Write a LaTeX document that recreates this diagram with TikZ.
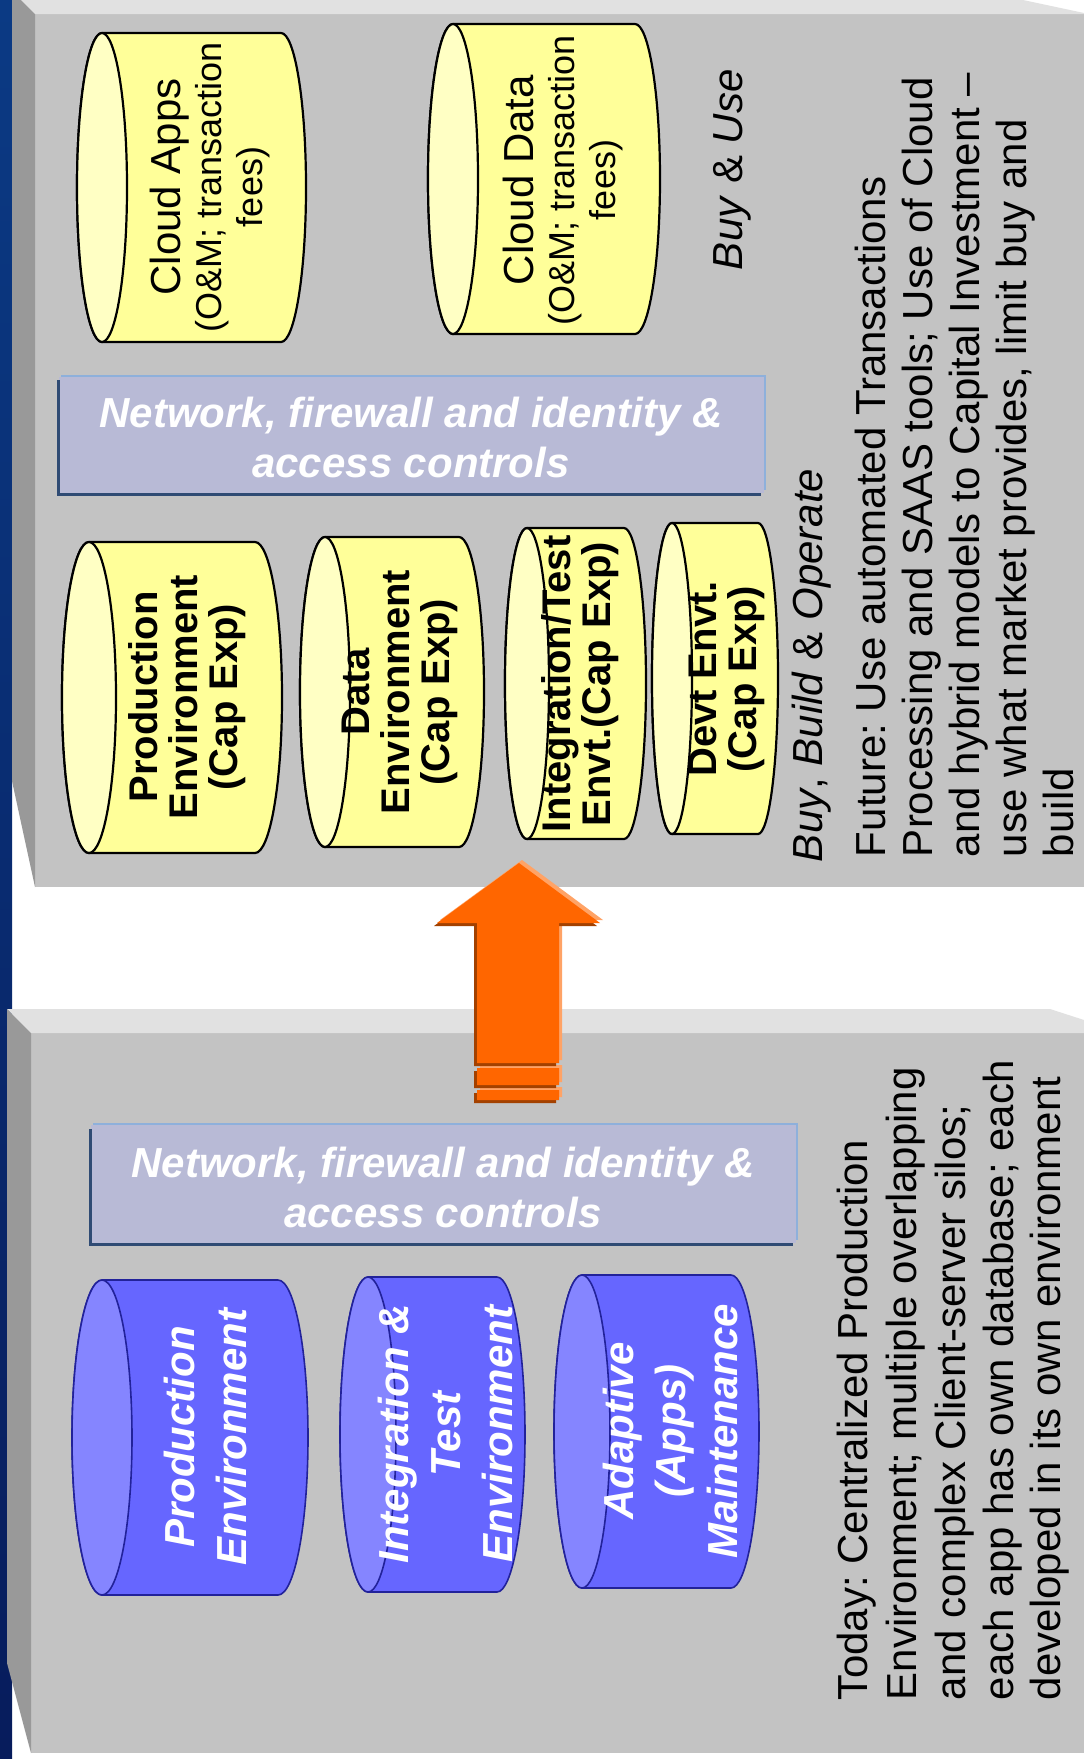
\documentclass[tikz,border=0pt]{standalone}
\usepackage{fontspec}
\setmainfont{Liberation Sans}
\frenchspacing
\definecolor{panelface}{HTML}{C3C3C3}
\definecolor{paneltop}{HTML}{E1E1E1}
\definecolor{panelside}{HTML}{999999}
\definecolor{navyA}{HTML}{0B3A84}
\definecolor{navyB}{HTML}{071C5C}
\definecolor{cylY}{HTML}{FFFF99}
\definecolor{cylYend}{HTML}{FFFFC4}
\definecolor{cylB}{HTML}{6666FF}
\definecolor{cylBend}{HTML}{8585FF}
\definecolor{cylBline}{HTML}{22229A}
\definecolor{netfill}{HTML}{B8BAD6}
\definecolor{netlight}{HTML}{8EB0DB}
\definecolor{netdark}{HTML}{2F4B74}
\definecolor{orangeA}{HTML}{FF6600}
\definecolor{orangeDark}{HTML}{A34100}
\definecolor{orangeLight}{HTML}{FFA366}
% #1 L, #2 R, #3 T, #4 B, #5 rx, #6 body colour, #7 end colour, #8 line style
\newcommand\mycyl[8]{%
  \pgfmathsetmacro\cylcxa{#1+#5}%
  \pgfmathsetmacro\cylcxb{#2-#5}%
  \pgfmathsetmacro\cylry{(#4-#3)/2}%
  \pgfmathsetmacro\cylcym{(#3+#4)/2}%
  \filldraw[fill=#6,#8] (\cylcxa,#3) -- (\cylcxb,#3)
    arc[start angle=-90,end angle=90,x radius=#5,y radius=\cylry]
    -- (\cylcxa,#4)
    arc[start angle=90,end angle=270,x radius=#5,y radius=\cylry] -- cycle;
  \filldraw[fill=#7,#8] (\cylcxa,\cylcym) ellipse[x radius=#5,y radius=\cylry];
}
\tikzset{
  every node/.style={inner sep=0pt, outer sep=0pt},
  yline/.style={draw=black, line width=2.2pt},
  bline/.style={draw=cylBline, line width=1.6pt},
  cyltext/.style={rotate=90, align=center, font=\bfseries\fontsize{40}{40}\selectfont},
  bluetext/.style={rotate=90, align=center, text=white, font=\bfseries\itshape\fontsize{42}{52}\selectfont},
  cloudtext/.style={rotate=90, align=center, font=\fontsize{36}{41}\selectfont},
  nettext/.style={align=center, text=white, font=\bfseries\itshape\fontsize{42}{50}\selectfont},
  bodytext/.style={rotate=90, anchor=base west, font=\fontsize{42}{48}\selectfont},
}
\begin{document}
\begin{tikzpicture}[x=1pt,y=-1pt]
\useasboundingbox (0,0) rectangle (1084,1759);
\fill[white] (0,0) rectangle (1084,1759);
% blue strip
\shade[top color=navyA, bottom color=navyB] (0,0) rectangle (12,1759);
% top panel
\fill[panelface] (35,14) rectangle (1084,887);
\fill[paneltop] (21,0) -- (1023,0) -- (1084,13) -- (1084,14) -- (35,14) -- cycle;
\fill[panelside] (12,0) -- (21,0) -- (35,14) -- (35,887) -- (12,781) -- cycle;
% bottom panel
\fill[panelface] (31,1033) rectangle (1084,1753);
\fill[paneltop] (7,1009) -- (1050,1009) -- (1084,1020) -- (1084,1033) -- (31,1033) -- cycle;
\fill[panelside] (7,1009) -- (31,1033) -- (31,1753) -- (7,1663) -- cycle;

% top cylinders
\mycyl{77}{306}{33}{342}{25}{cylY}{cylYend}{yline}
\node[cloudtext] (cloudapps) at (210,187) {{\fontsize{42}{41}\selectfont Cloud Apps}\\(O\&M; transaction\\fees)};
\mycyl{428}{660}{24}{334}{25}{cylY}{cylYend}{yline}
\node[cloudtext] (clouddata) at (563,180) {{\fontsize{42}{41}\selectfont Cloud Data}\\(O\&M; transaction\\fees)};
\node[bodytext] (buyuse) at (742,270) {\textit{Buy} \& \textit{Use}};

% network box top
\fill[netfill] (59,377) rectangle (764,493);
\draw[netlight, line width=2.5pt] (61,376) -- (765,376) -- (765,490);
\draw[netdark, line width=3pt] (58,380) -- (58,494) -- (761,494);
\node[nettext] (net1) at (411,437) {Network, firewall and identity \&\\access controls};

% yellow row
\mycyl{62}{282}{542}{853}{27}{cylY}{cylYend}{yline}
\node[cyltext] (prodY) at (187,697) {Production\\Environment\\(Cap Exp)};
\mycyl{300}{484}{537}{847}{25}{cylY}{cylYend}{yline}
\node[cyltext] (dataY) at (400,692) {Data\\Environment\\(Cap Exp)};
\mycyl{505}{646}{528}{839}{22}{cylY}{cylYend}{yline}
\node[cyltext] (intY) at (580,684) {Integration/Test\\Envt.(Cap Exp)};
\mycyl{652}{778}{523}{834}{20}{cylY}{cylYend}{yline}
\node[cyltext] (devY) at (727,679) {Devt Envt.\\(Cap Exp)};

% texts right of top panel
\node[bodytext] (bbo) at (822,862) {\textit{Buy}, \textit{Build} \& \textit{Operate}};
\node[bodytext] (fut1) at (885,857) {Future: Use automated Transactions};
\node[bodytext] (fut2) at (932,857) {Processing and SAAS tools; Use of Cloud};
\node[bodytext] (fut3) at (979,857) {and hybrid models to Capital Investment –};
\node[bodytext] (fut4) at (1026,857) {use what market provides, limit buy and};
\node[bodytext] (fut5) at (1073,857) {build};

% arrow: highlight, shadow, body
\begin{scope}[shift={(3,-3)}]
\fill[orangeLight] (519,863) -- (600,923) -- (559,923) -- (559,1063) -- (477,1063) -- (477,923) -- (437,923) -- cycle
  (477,1068) rectangle (559,1085) (477,1090) rectangle (559,1100);
\end{scope}
\begin{scope}[shift={(-3,3)}]
\fill[orangeDark] (519,863) -- (600,923) -- (559,923) -- (559,1063) -- (477,1063) -- (477,923) -- (437,923) -- cycle
  (477,1068) rectangle (559,1085) (477,1090) rectangle (559,1100);
\end{scope}
\fill[orangeA] (519,863) -- (600,923) -- (559,923) -- (559,1063) -- (477,1063) -- (477,923) -- (437,923) -- cycle
  (477,1068) rectangle (559,1085) (477,1090) rectangle (559,1100);

% network box bottom
\fill[netfill] (91,1125) rectangle (796,1243);
\draw[netlight, line width=2.5pt] (93,1124) -- (797,1124) -- (797,1240);
\draw[netdark, line width=3pt] (90,1129) -- (90,1244) -- (793,1244);
\node[nettext] (net2) at (443,1187) {Network, firewall and identity \&\\access controls};

% blue cylinders
\mycyl{72}{308}{1280}{1595}{30}{cylB}{cylBend}{bline}
\node[bluetext] (prodB) at (205,1437) {Production\\Environment};
\mycyl{340}{525}{1277}{1592}{28}{cylB}{cylBend}{bline}
\node[bluetext] (intB) at (445,1434) {Integration \&\\Test\\Environment};
\mycyl{554}{759}{1275}{1588}{28}{cylB}{cylBend}{bline}
\node[bluetext] (adaB) at (670,1431) {Adaptive\\(Apps)\\Maintenance};

% bottom text
\node[bodytext] (tod1) at (867,1700) {Today: Centralized Production};
\node[bodytext] (tod2) at (916,1700) {Environment; multiple overlapping};
\node[bodytext] (tod3) at (965,1700) {and complex Client-server silos;};
\node[bodytext] (tod4) at (1013,1700) {each app has own database; each};
\node[bodytext] (tod5) at (1060,1700) {developed in its own environment};
\end{tikzpicture}
\end{document}
